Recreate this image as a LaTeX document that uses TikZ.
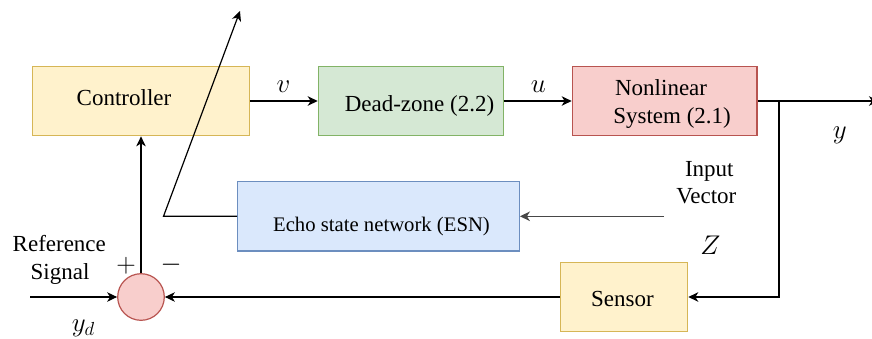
\RequirePackage{fix-cm}
\documentclass[tikz,border=0pt]{standalone}
\usepackage{fontspec}
\setmainfont{Liberation Serif}
\usetikzlibrary{arrows.meta}

\definecolor{yelFill}{HTML}{FFF2CC}
\definecolor{yelLine}{HTML}{D6B656}
\definecolor{grnFill}{HTML}{D5E8D4}
\definecolor{grnLine}{HTML}{82B366}
\definecolor{redFill}{HTML}{F8CECC}
\definecolor{redLine}{HTML}{B85450}
\definecolor{bluFill}{HTML}{DAE8FC}
\definecolor{bluLine}{HTML}{6C8EBF}

\begin{document}
\begin{tikzpicture}[x=1pt,y=-1pt,
  >={Stealth[length=10pt,width=9.5pt,inset=3pt]},
  line width=1.2pt,
  blk/.style={draw, line width=1.2pt, inner sep=0pt},
  txt/.style={font=\rmfamily\fontsize{23}{27.6}\selectfont, inner sep=0pt, anchor=base},
  smalltxt/.style={font=\rmfamily\fontsize{20.7}{24}\selectfont, inner sep=0pt, anchor=base},
  mth/.style={font=\fontsize{27}{30}\selectfont, inner sep=0pt, anchor=base},
  wire/.style={draw=black, line width=1.2pt}]

\useasboundingbox (0,0) rectangle (872,338);

% blocks
\node[blk, fill=yelFill, draw=yelLine, minimum width=217pt, minimum height=69.5pt] (ctrl) at (140.8,101) {};
\node[blk, fill=grnFill, draw=grnLine, minimum width=185pt, minimum height=69.5pt] (dz) at (410.8,101) {};
\node[blk, fill=redFill, draw=redLine, minimum width=184.7pt, minimum height=69.5pt] (sys) at (664.6,101) {};
\node[blk, fill=bluFill, draw=bluLine, minimum width=281.6pt, minimum height=69.3pt] (esn) at (378.5,216.3) {};
\node[blk, fill=yelFill, draw=yelLine, minimum width=127pt, minimum height=69pt] (sensor) at (624.2,297) {};
\node[blk, circle, fill=redFill, draw=redLine, minimum size=46.6pt] (sum) at (141,297) {};

% block texts
\node[txt] (ctrlT) at (124,105) {Controller};
\node[txt] (dzT) at (419.5,111.7) {Dead-zone (2.2)};
\node[txt, anchor=base west] (sysT1) at (614.5,95.7) {Nonlinear};
\node[txt, anchor=base west] (sysT2) at (612.7,123.3) {System (2.1)};
\node[smalltxt] (esnT) at (381.5,231.7) {Echo state network (ESN)};
\node[txt] (sensorT) at (622.4,306.5) {Sensor};

% signal labels
\node[mth] (vL) at (283.5,92) {$v$};
\node[mth] (uL) at (538.3,92.7) {$u$};
\node[mth] (yL) at (839.7,138) {$y$};
\node[mth] (zL) at (710.5,254) {$Z$};
\node[mth] (ydL) at (83.3,331.5) {$y_d$};
\node[mth, anchor=center] (plusL) at (126,265.7) {$+$};
\node[mth, anchor=center] (minusL) at (171,264.3) {$-$};
\node[txt] (inT1) at (709.3,176.7) {Input};
\node[txt] (inT2) at (706.3,203.3) {Vector};
\node[txt] (refT1) at (59.3,251) {Reference};
\node[txt] (refT2) at (60,279) {Signal};

% free ends of connectors
\coordinate (out) at (879,101);
\coordinate (br) at (779,101);
\coordinate (refIn) at (30,297);
\coordinate (zIn) at (664,216.3);
\coordinate (knee) at (163.5,216.3);
\coordinate (tune) at (240,11);

% connectors
\draw[wire,->] (ctrl) -- (dz);
\draw[wire,->] (dz) -- (sys);
\draw[wire,->] (sys.east) -- (out);
\draw[wire,->] (br) |- (sensor.east);
\draw[wire,->] (sensor) -- (sum);
\draw[wire,->] (refIn) -- (sum);
\draw[wire,->] (sum.north) -- (sum.north |- ctrl.south);
\draw[wire,->] (esn.west) -- (knee) -- (tune);
\draw[wire,draw=black!72,line width=1.5pt,->] (zIn) -- (esn.east);

\end{tikzpicture}
\end{document}
